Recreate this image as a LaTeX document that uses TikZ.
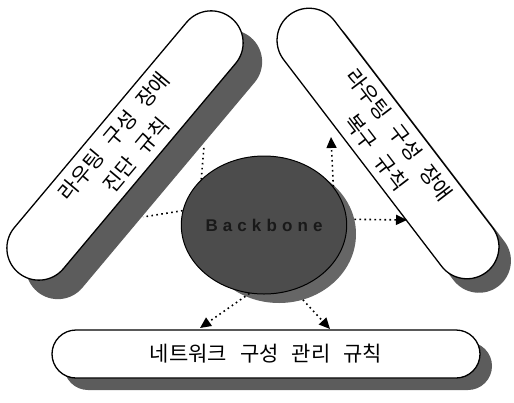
\documentclass[tikz,border=0pt]{standalone}
\usepackage{fontspec}
\setmainfont{Liberation Sans}
\newfontfamily\krfont{Noto Sans CJK KR}
\usetikzlibrary{shapes.misc,shapes.geometric,arrows.meta}

\begin{document}
\begin{tikzpicture}[x=1pt,y=-1pt,
  pill/.style={rounded rectangle, draw=black, line width=1.3pt, fill=white,
    inner sep=0pt, align=center, font=\krfont\fontsize{21}{29}\selectfont},
  pillshadow/.style={rounded rectangle, fill=black!64, draw=none, inner sep=0pt},
  conn/.style={line width=1.6pt, dash pattern=on 1.6pt off 3.4pt, black},
  tip/.style={-{Triangle[length=11pt,width=10pt]}}
]
\useasboundingbox (0,0) rectangle (514,402);

% shadows of the pills
\node[pillshadow, minimum width=332pt, minimum height=64pt, rotate=50] (lsh) at (144,164.5) {};
\node[pillshadow, minimum width=324pt, minimum height=64pt, rotate=-52.6] (rsh) at (400,157.5) {};
\node[pillshadow, minimum width=428pt, minimum height=48pt] (bsh) at (278,366) {};

% pills
\node[pill, minimum width=332pt, minimum height=64pt, rotate=50] (lp) at (125,145.5)
  {라우팅\hspace{12pt}구성\hspace{12pt}장애\\진단\hspace{12pt}규칙};
\node[pill, minimum width=324pt, minimum height=64pt, rotate=-52.6] (rp) at (388,143.5)
  {라우팅\hspace{12pt}구성\hspace{12pt}장애\\복구\hspace{12pt}규칙};
\node[pill, minimum width=428pt, minimum height=48pt] (bp) at (266,354)
  {네트워크\hspace{13pt}구성\hspace{13pt}관리\hspace{13pt}규칙};

% central ellipse
\node[ellipse, minimum width=154pt, minimum height=138pt, fill=black!60, draw=none, inner sep=0pt] (bbs) at (279,234) {};
\node[ellipse, minimum width=154pt, minimum height=138pt, fill=black!70, draw=black, line width=1pt, inner sep=0pt,
  font=\fontsize{17}{17}\selectfont\bfseries\addfontfeatures{LetterSpace=30}, text=black!90] (bb) at (264,225) {Backbone};

% free ends of connectors
\coordinate (lh) at (143,217);
\coordinate (lv) at (204,146);
\coordinate (rv) at (331,137);
\coordinate (rh) at (407,220);
\coordinate (bl) at (200,328);
\coordinate (br) at (330,329);

% connectors
\draw[conn] (bb.170) -- (lh);
\draw[conn] (bb.144) -- (lv);
\draw[conn, tip] (bb.29) -- (rv);
\draw[conn, tip] (bbs.11) -- (rh);
\draw[conn, tip] (bb.-102) -- (bl);
\draw[conn, tip] (bbs.-70) -- (br);
\end{tikzpicture}
\end{document}
